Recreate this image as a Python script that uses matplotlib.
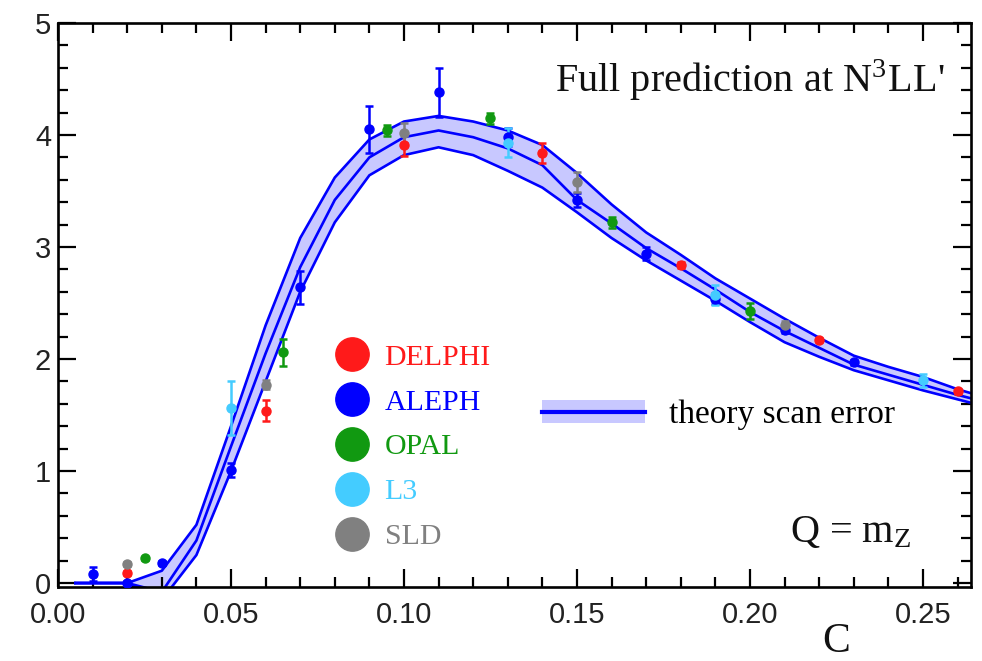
import numpy as np
import matplotlib.pyplot as plt
from matplotlib.lines import Line2D
from matplotlib.patches import Patch
from matplotlib.ticker import MultipleLocator

plt.rcParams['mathtext.fontset'] = 'stix'

# theory band (N3LL' scan)
c_grid = [0.005, 0.01, 0.02, 0.03, 0.04, 0.05, 0.06, 0.07, 0.08, 0.09, 0.10, 0.11, 0.12, 0.13,
          0.14, 0.15, 0.16, 0.17, 0.18, 0.19, 0.20, 0.21, 0.22, 0.23, 0.24, 0.25, 0.26, 0.27]
band_hi = [0, 0, 0, 0.11, 0.52, 1.40, 2.30, 3.08, 3.62, 3.96, 4.12, 4.17, 4.12, 4.04,
           3.91, 3.66, 3.38, 3.13, 2.93, 2.72, 2.54, 2.36, 2.19, 2.03, 1.93, 1.84, 1.73, 1.64]
band_mid = [0, 0, 0, -0.08, 0.38, 1.22, 2.05, 2.82, 3.42, 3.80, 3.98, 4.04, 3.98, 3.88,
            3.73, 3.42, 3.21, 2.99, 2.81, 2.62, 2.42, 2.25, 2.10, 1.95, 1.86, 1.77, 1.68, 1.60]
band_lo = [0, 0, 0, -0.15, 0.25, 1.00, 1.80, 2.60, 3.22, 3.64, 3.82, 3.89, 3.82, 3.68,
           3.53, 3.31, 3.08, 2.88, 2.70, 2.52, 2.33, 2.15, 2.02, 1.90, 1.81, 1.72, 1.64, 1.56]

# experimental data: C, value, error
delphi_c = [0.02, 0.06, 0.10, 0.14, 0.18, 0.22, 0.26]
delphi_y = [0.09, 1.54, 3.91, 3.84, 2.84, 2.17, 1.71]
delphi_e = [0.02, 0.09, 0.10, 0.09, 0.03, 0.02, 0.02]

aleph_c = [0.01, 0.02, 0.03, 0.05, 0.07, 0.09, 0.11, 0.13, 0.15, 0.17, 0.19, 0.21, 0.23]
aleph_y = [0.08, 0.0, 0.18, 1.01, 2.64, 4.05, 4.38, 3.98, 3.42, 2.94, 2.54, 2.26, 1.97]
aleph_e = [0.06, 0.02, 0.02, 0.06, 0.15, 0.21, 0.22, 0.08, 0.06, 0.06, 0.05, 0.03, 0.02]

opal_c = [0.025, 0.065, 0.095, 0.125, 0.16, 0.20]
opal_y = [0.22, 2.06, 4.04, 4.15, 3.22, 2.43]
opal_e = [0.01, 0.12, 0.05, 0.05, 0.05, 0.07]

l3_c = [0.05, 0.13, 0.19, 0.25]
l3_y = [1.56, 3.93, 2.57, 1.81]
l3_e = [0.24, 0.13, 0.09, 0.06]

sld_c = [0.02, 0.06, 0.10, 0.15, 0.21]
sld_y = [0.17, 1.77, 4.02, 3.58, 2.30]
sld_e = [0.02, 0.04, 0.09, 0.09, 0.04]

experiments = [
    ("DELPHI", "#ff1a1a", delphi_c, delphi_y, delphi_e),
    ("ALEPH", "#0000ff", aleph_c, aleph_y, aleph_e),
    ("OPAL", "#119911", opal_c, opal_y, opal_e),
    ("L3", "#44ccff", l3_c, l3_y, l3_e),
    ("SLD", "#808080", sld_c, sld_y, sld_e),
]

fig = plt.figure(figsize=(9.82, 6.61), dpi=100)
ax = fig.add_axes([0.0591, 0.1120, 0.9297, 0.8533])

band_col = "#c8c8ff"
ax.fill_between(c_grid, band_lo, band_hi, color=band_col, lw=0, zorder=1)
for yy in (band_hi, band_mid, band_lo):
    ax.plot(c_grid, yy, color="#0000ff", lw=1.9, zorder=2)

for name, col, cc, yy, ee in experiments:
    ax.errorbar(cc, yy, yerr=ee, fmt="o", color=col, ms=6.5, elinewidth=1.8,
                capsize=2.8, capthick=1.8, zorder=3)

ax.set_xlim(0, 0.2639)
ax.set_ylim(-0.035, 5.0)
ax.xaxis.set_major_locator(MultipleLocator(0.05))
ax.xaxis.set_minor_locator(MultipleLocator(0.01))
ax.yaxis.set_major_locator(MultipleLocator(1))
ax.yaxis.set_minor_locator(MultipleLocator(0.2))
ax.set_xticks([0, 0.05, 0.10, 0.15, 0.20, 0.25])
ax.set_xticklabels(["0.00", "0.05", "0.10", "0.15", "0.20", "0.25"])
ax.tick_params(which="both", direction="in", top=True, right=True, width=1.6,
               labelsize=21, labelcolor="#222222", labelfontfamily="Liberation Sans")
ax.tick_params(which="major", length=13)
ax.tick_params(which="minor", length=7)
ax.tick_params(axis="x", which="major", pad=10)
ax.tick_params(axis="y", which="major", pad=5)
for s in ax.spines.values():
    s.set_linewidth(1.9)

serif = "Liberation Serif"
ax.text(0.971, 0.878, r"Full prediction at N$^{\mathregular{3}}$LL'", transform=ax.transAxes,
        ha="right", va="baseline", fontsize=29, family=serif, color="#111111")
ax.text(0.802, 0.08, r"Q = m$_{\mathregular{Z}}$", transform=ax.transAxes,
        ha="left", va="baseline", fontsize=29, family=serif, color="#111111")
ax.text(0.852, -0.116, "C", transform=ax.transAxes, ha="center", va="baseline",
        fontsize=30, family=serif, color="#111111")

# experiment legend
handles = [Line2D([], [], marker="o", ls="none", color=col, ms=24) for _, col, *_ in experiments]
leg1 = ax.legend(handles, [e[0] for e in experiments], loc="upper left",
                 bbox_to_anchor=(0.306, 0.431), frameon=False, prop={"family": serif, "size": 21.5},
                 handlelength=1.0, handletextpad=0.58, labelspacing=0.6, borderpad=0, borderaxespad=0)
for txt, (_, col, *_) in zip(leg1.get_texts(), experiments):
    txt.set_color(col)
ax.add_artist(leg1)

# theory legend
th = (Patch(facecolor=band_col, edgecolor="none"), Line2D([], [], color="#0000ff", lw=3))
ax.legend([th], ["theory scan error"], loc="center left", bbox_to_anchor=(0.53, 0.305),
          frameon=False, prop={"family": serif, "size": 24}, handlelength=3.1, handleheight=0.7,
          handletextpad=0.7, borderpad=0, borderaxespad=0)

fig.savefig("out.png", dpi=100)
